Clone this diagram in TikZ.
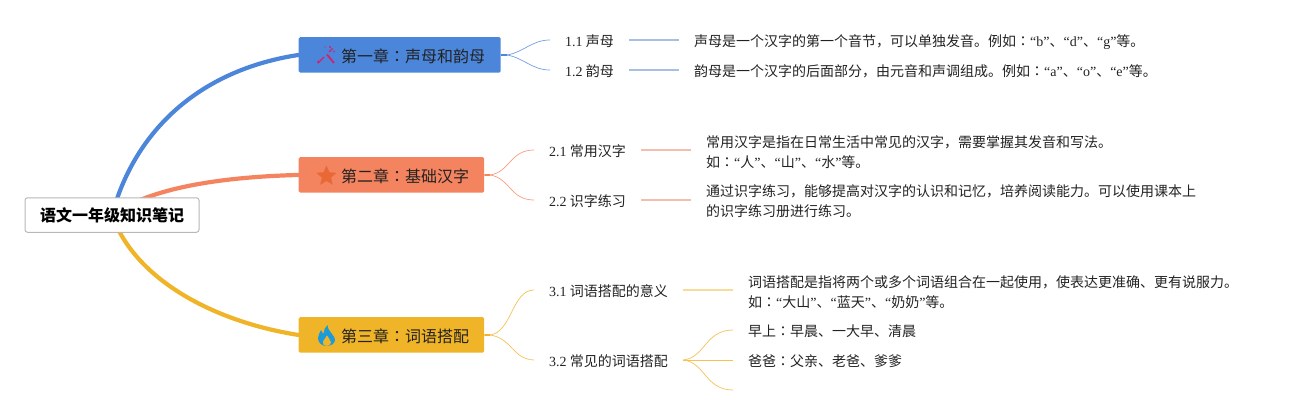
\documentclass[tikz,border=0pt]{standalone}
\usepackage{fontspec}
\setmainfont{Liberation Serif}
\newfontfamily\cjk{Noto Sans CJK SC}
\newfontfamily\cjktc{Noto Sans CJK TC}
\newcommand{\Cl}{{\cjktc ：}}
\newcommand{\Lt}[1]{{\rmfamily\normalfont #1}}
\definecolor{cblue}{HTML}{4C86DB}
\definecolor{corange}{HTML}{F4845F}
\definecolor{cyellow}{HTML}{F0B429}
\definecolor{lblue}{HTML}{A6BFE2}
\definecolor{lorange}{HTML}{F2BFAE}
\definecolor{lyellow}{HTML}{F6DD9C}
\definecolor{tx}{HTML}{222222}
\definecolor{cpink}{HTML}{D81E6A}
\definecolor{cstar}{HTML}{E86836}
\definecolor{cflame}{HTML}{1E9AD6}
\tikzset{
  rootbox/.style={draw=black!28,line width=1pt,rounded corners=2.5pt,fill=white,inner sep=0pt,
    minimum width=174,minimum height=34.5,font=\fontsize{16}{20}\selectfont\cjk\bfseries,text=black},
  chapbox/.style={rounded corners=1.5pt,inner sep=0pt,anchor=north west,minimum height=35.5,align=left,
    font=\fontsize{16}{20}\selectfont\cjk,text=tx},
  chaptext/.style={anchor=west,inner sep=0pt,font=\fontsize{16}{20}\selectfont\cjk,text=tx},
  sublabel/.style={anchor=west,inner xsep=15,inner ysep=0,text height=13,text depth=1,
    font=\fontsize{14}{20}\selectfont\cjk,text=tx},
  detail/.style={anchor=west,inner xsep=15,inner ysep=0,align=left,
    font=\fontsize{14}{20}\selectfont\cjk,text=tx},
  oneline/.style={detail,text height=13,text depth=1},
  main/.style={line width=4.2pt,line cap=round},
  twig/.style={line width=0.7pt},
  stem/.style={line width=1.6pt},
  leaf/.style={line width=1.6pt},
}
\begin{document}
\begin{tikzpicture}[x=1pt,y=-1pt]
\useasboundingbox (0,0) rectangle (1308,415);
% nodes
\coordinate (rc) at (112,215);
\node[chapbox,fill=cblue,minimum width=202] (c1) at (298.5,37) {};
\node[chapbox,fill=corange,minimum width=185.5] (c2) at (298.5,157) {};
\node[chapbox,fill=cyellow,minimum width=185.5] (c3) at (298.5,317) {};
% main branches
\draw[main,cblue] (rc) .. controls (135,130) and (200,70) .. (c1.west);
\draw[main,corange] (rc) .. controls (150,188) and (220,177) .. (c2.west);
\draw[main,cyellow] (rc) .. controls (135,280) and (215,322) .. (c3.west);
\node[rootbox] (root) at (112,215) {语文一年级知识笔记};
% chapter labels
\node[chaptext] (t1) at (341,56) {第一章\Cl 声母和韵母};
\node[chaptext] (t2) at (341,176) {第二章\Cl 基础汉字};
\node[chaptext] (t3) at (341,336) {第三章\Cl 词语搭配};
% icons
\draw[cpink,line width=1.8pt] (327,54.5) -- (334,63);
\draw[cpink,line width=1.2pt] (319.5,61.5) -- (324,57);
\draw[cpink,line width=1.1pt] (329,52) -- (332.5,48.5);
\fill[cpink] (318.5,62) circle (1.7);
\fill[cpink] (330,47) circle (1.1);
\fill[cpink] (334,51.5) circle (0.8);
\fill[cpink] (325,47) circle (0.7);
% star
\fill[cstar] (326.5,165.5)
 -- (329.4,172.2) -- (336.5,172.9) -- (331.1,177.6) -- (332.8,184.8) -- (326.5,181)
 -- (320.2,184.8) -- (321.9,177.6) -- (316.5,172.9) -- (323.6,172.2) -- cycle;
% flame
\fill[cflame] (326.5,346)
 .. controls (321,346) and (318,342) .. (318,338)
 .. controls (318,335) and (320,333) .. (321,330)
 .. controls (322,332) and (322.5,333) .. (323.5,333.5)
 .. controls (324,330) and (325,327) .. (327.5,325)
 .. controls (327.5,329) and (330,331) .. (332,334)
 .. controls (334,336.5) and (335,338) .. (335,340)
 .. controls (335,343.5) and (331,346) .. (326.5,346) -- cycle;
\fill[cyellow] (326.5,346)
 .. controls (323.5,346) and (322.5,343.5) .. (323,341.5)
 .. controls (323.5,339.5) and (326,338) .. (327,335.5)
 .. controls (328,338) and (331,340) .. (331,342.5)
 .. controls (331,344.5) and (329,346) .. (326.5,346) -- cycle;
% sub labels
\node[sublabel] (l11) at (550,40) {\Lt{1.1} 声母};
\node[sublabel] (l12) at (550,70) {\Lt{1.2} 韵母};
\node[sublabel] (l21) at (534,150) {\Lt{2.1} 常用汉字};
\node[sublabel] (l22) at (534,200) {\Lt{2.2} 识字练习};
\node[sublabel] (l31) at (534,290) {\Lt{3.1} 词语搭配的意义};
\node[sublabel] (l32) at (534,360) {\Lt{3.2} 常见的词语搭配};
% details
\node[oneline] (d11) at (679,40) {声母是一个汉字的第一个音节，可以单独发音。例如\Cl\Lt{“b”}、\Lt{“d”}、\Lt{“g”}等。};
\node[oneline] (d12) at (679,70) {韵母是一个汉字的后面部分，由元音和声调组成。例如\Cl\Lt{“a”}、\Lt{“o”}、\Lt{“e”}等。};
\node[detail] (d21) at (691,152.5) {常用汉字是指在日常生活中常见的汉字，需要掌握其发音和写法。\\如\Cl\Lt{“}人\Lt{”}、\Lt{“}山\Lt{”}、\Lt{“}水\Lt{”}等。};
\node[detail] (d22) at (691,201.5) {通过识字练习，能够提高对汉字的认识和记忆，培养阅读能力。可以使用课本上\\的识字练习册进行练习。};
\node[detail] (d31) at (733,292.5) {词语搭配是指将两个或多个词语组合在一起使用，使表达更准确、更有说服力。\\如\Cl\Lt{“}大山\Lt{”}、\Lt{“}蓝天\Lt{”}、\Lt{“}奶奶\Lt{”}等。};
\node[oneline] (d321) at (733,330) {早上\Cl 早晨、一大早、清晨};
\node[oneline] (d322) at (733,360) {爸爸\Cl 父亲、老爸、爹爹};
\coordinate (d323) at (733,390);
% junctions
\coordinate (j1) at (507,55);
\coordinate (j2) at (490,175);
\coordinate (j3) at (490,335);
% connectors chapter -> sub
\draw[stem,cblue] (c1.east) -- (j1);
\draw[twig,cblue!80] (j1) .. controls (524,52) and (532,40) .. (l11.west);
\draw[twig,cblue!80] (j1) .. controls (524,58) and (532,70) .. (l12.west);
\draw[stem,corange] (c2.east) -- (j2);
\draw[twig,corange!80] (j2) .. controls (510,172) and (510,150) .. (l21.west);
\draw[twig,corange!80] (j2) .. controls (510,178) and (510,200) .. (l22.west);
\draw[stem,cyellow] (c3.east) -- (j3);
\draw[twig,cyellow!80] (j3) .. controls (512,332) and (512,290) .. (l31.west);
\draw[twig,cyellow!80] (j3) .. controls (512,338) and (512,359) .. (l32.west);
% leaves
\draw[leaf,lblue] (l11.east) -- (d11.west);
\draw[leaf,lblue] (l12.east) -- (d12.west);
\draw[leaf,lorange] (l21.east) -- (d21.west|-l21.east);
\draw[leaf,lorange] (l22.east) -- (d22.west|-l22.east);
\draw[leaf,lyellow] (l31.east) -- (d31.west|-l31.east);
\draw[twig,cyellow!80] (l32.east) .. controls (705,358) and (705,330) .. (d321.west);
\draw[twig,cyellow!80] (l32.east) -- (d322.west);
\draw[twig,cyellow!80] (l32.east) .. controls (705,362) and (705,390) .. (d323);
\end{tikzpicture}
\end{document}
